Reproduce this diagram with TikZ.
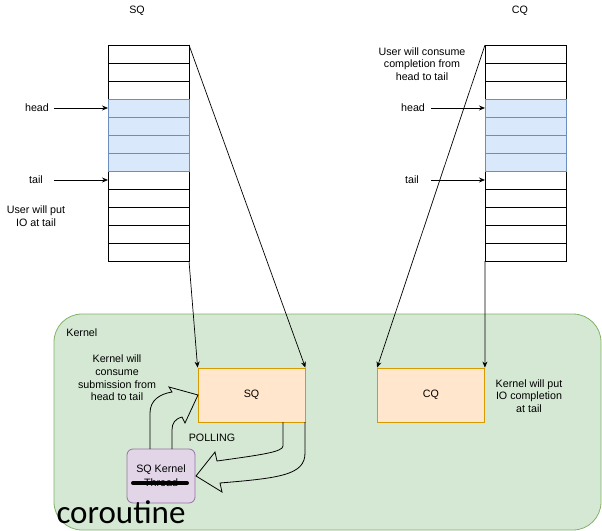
\documentclass[tikz,border=0pt]{standalone}
\usepackage{fontspec}
\setmainfont{Liberation Sans}
\newfontfamily\corofont{Carlito}
\usetikzlibrary{arrows.meta}
\definecolor{bluefill}{HTML}{DAE8FC}
\definecolor{bluedraw}{HTML}{6C8EBF}
\definecolor{orangefill}{HTML}{FFE6CC}
\definecolor{orangedraw}{HTML}{D79B00}
\definecolor{greenfill}{HTML}{D5E8D4}
\definecolor{greendraw}{HTML}{82B366}
\definecolor{purplefill}{HTML}{E1D5E7}
\definecolor{purpledraw}{HTML}{9673A6}
\begin{document}
\begin{tikzpicture}[x=1bp,y=-1bp,
  font=\fontsize{10.7bp}{12.6bp}\selectfont,
  line width=0.8bp,
  cell/.style={draw=black, fill=white, minimum width=81bp, minimum height=18bp, inner sep=0pt, outer sep=0pt},
  bluecell/.style={cell, draw=bluedraw, fill=bluefill},
  lbl/.style={align=center, inner sep=0pt},
  conn/.style={-{Stealth[length=6bp,width=5bp]}, line width=0.7bp},
  qbox/.style={draw=orangedraw, fill=orangefill, minimum width=107bp, minimum height=54bp, inner sep=0pt},
  flex/.style={draw=black, line width=0.8bp, line join=miter}
]
\useasboundingbox (0,0) rectangle (602,531);

% kernel container
\draw[draw=greendraw, fill=greenfill, rounded corners=28bp] (54,314) rectangle (601,530);
\node[lbl, anchor=west] (kernel) at (66,333) {Kernel};

% SQ array
\foreach \i in {1,2,3,8,9,10,11,12}{
  \node[cell] (sq\i) at (148.5,{45+18*\i-9}) {};
}
\foreach \i in {4,5,6,7}{
  \node[bluecell] (sq\i) at (148.5,{45+18*\i-9}) {};
}
% CQ array
\foreach \i in {1,2,3,8,9,10,11,12}{
  \node[cell] (cq\i) at (525.5,{45+18*\i-9}) {};
}
\foreach \i in {4,5,6,7}{
  \node[bluecell] (cq\i) at (525.5,{45+18*\i-9}) {};
}

% titles
\node[lbl] (sqtitle) at (137,11) {SQ};
\node[lbl] (cqtitle) at (520,11) {CQ};

% head / tail labels
\node[lbl] (sqhead) at (37,108) {head};
\node[lbl] (sqtail) at (36,180) {tail};
\coordinate (sqheadstart) at (54,108);
\coordinate (sqtailstart) at (54,180);
\draw[conn] (sqheadstart) -- (sq4.west);
\draw[conn] (sqtailstart) -- (sq8.west);
\node[lbl] (sqput) at (36,216) {User will put\\IO at tail};

\node[lbl] (cqhead) at (413,108) {head};
\node[lbl] (cqtail) at (412,180) {tail};
\coordinate (cqheadstart) at (431,108);
\coordinate (cqtailstart) at (431,180);
\draw[conn] (cqheadstart) -- (cq4.west);
\draw[conn] (cqtailstart) -- (cq8.west);
\node[lbl] (cqconsume) at (422,64) {User will consume\\completion from\\head to tail};

% kernel boxes
\node[qbox] (ksq) at (251.5,395) {SQ};
\node[qbox] (kcq) at (431,395) {CQ};
\node[lbl] (kconsume) at (117,378) {Kernel will\\consume\\submission from\\head to tail};
\node[lbl] (kput) at (529,396) {Kernel will put\\IO completion\\at tail};
\node[lbl] (polling) at (212,438) {POLLING};

% connectors from arrays to kernel boxes
\draw[conn] (sq1.north east) -- (ksq.north east);
\draw[conn] (sq12.south east) -- (ksq.north west);
\draw[conn] (cq1.north west) -- (kcq.north west);
\draw[conn] (cq12.south west) -- (kcq.north east);

% SQ kernel thread
\node[draw=purpledraw, fill=purplefill, rounded corners=6bp, minimum width=68bp, minimum height=54bp, inner sep=0pt] (thread) at (161,476) {};
\node[lbl] (threadtxt1) at (161,470) {SQ Kernel};
\node[lbl] (threadtxt2) at (161,483) {Thread};
\draw[line width=4bp, line cap=round] (133,483) -- (187,483);

% flex arrows
\draw[flex] (150,449) -- (150,413) .. controls (150,400) and (160,394) .. (172,392)
  -- (169,387) -- (198,395) -- (185,423) -- (182,417)
  .. controls (175,419) and (172,423) .. (172,430) -- (172,449);
\draw[flex] (305,422) -- (305,453) .. controls (305,475) and (280,478) .. (220,483)
  -- (222,492) -- (196,476) -- (215,452) -- (217,461)
  .. controls (260,455) and (283,452) .. (283,446) -- (283,422);

% coroutine
\node[anchor=base, inner sep=0pt, font=\corofont\fontsize{33bp}{36bp}\selectfont] (coro) at (121,523) {coroutine};
\end{tikzpicture}
\end{document}
